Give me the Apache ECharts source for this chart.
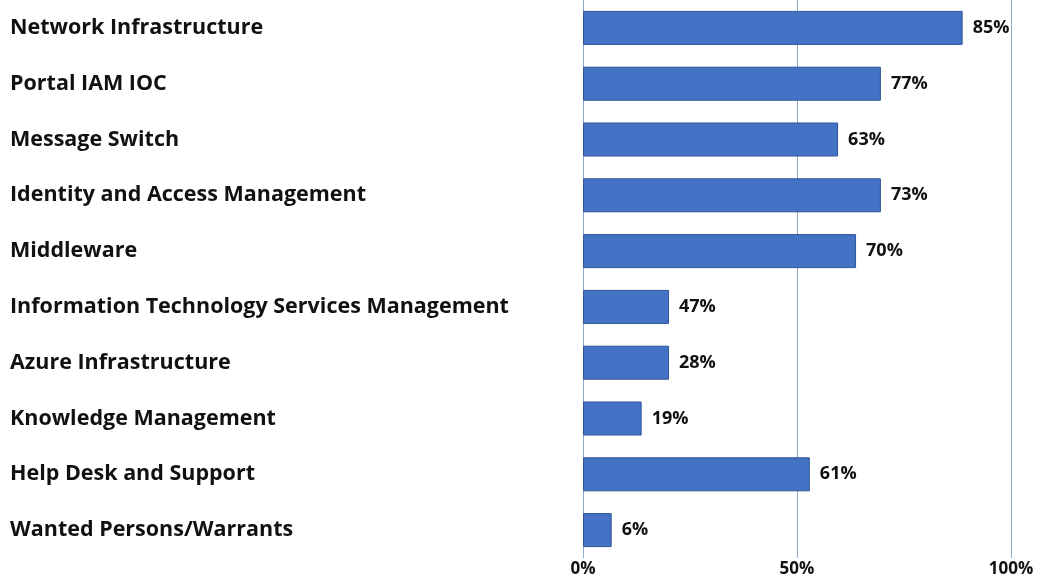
<!DOCTYPE html>
<html>
<head>
<meta charset="utf-8">
<script src="https://cdn.jsdelivr.net/npm/echarts@6/dist/echarts.min.js"></script>
<style>
  html, body { margin: 0; padding: 0; background: #fff; }
  #chart { width: 1037px; height: 579px; }
</style>
</head>
<body>
<div id="chart"></div>
<script>
// 类别（从上到下）
var categories = [
    'Network Infrastructure',
    'Portal IAM IOC',
    'Message Switch',
    'Identity and Access Management',
    'Middleware',
    'Information Technology Services Management',
    'Azure Infrastructure',
    'Knowledge Management',
    'Help Desk and Support',
    'Wanted Persons/Warrants'
];
// 条形长度
var barValues = [88.7, 69.6, 59.6, 69.6, 63.8, 20.1, 20.1, 13.7, 53.0, 6.7];
// 数据标签文字
var labelTexts = ['85%', '77%', '63%', '73%', '70%', '47%', '28%', '19%', '61%', '6%'];
// 横轴刻度
var xTicks = [0, 50, 100];

var font = '"Open Sans", "Noto Sans", sans-serif';

var chart = echarts.init(document.getElementById('chart'));
chart.setOption({
    animation: false,
    grid: { left: 583, right: 26, top: 0, bottom: 21, containLabel: false },
    xAxis: {
        type: 'value',
        min: 0,
        max: 100,
        interval: 50,
        axisLine: { show: false },
        axisTick: { show: false },
        splitLine: { lineStyle: { color: '#8fa8c8', width: 1 } },
        axisLabel: {
            margin: 3,
            color: '#111',
            fontFamily: font,
            fontWeight: 'bold',
            fontSize: 17,
            formatter: function (v) { return xTicks.indexOf(v) >= 0 ? v + '%' : ''; }
        }
    },
    yAxis: {
        type: 'category',
        inverse: true,
        data: categories,
        axisLine: { show: false },
        axisTick: { show: false },
        axisLabel: {
            align: 'left',
            margin: 573,
            color: '#111',
            fontFamily: font,
            fontWeight: 'bold',
            fontSize: 21.5,
            verticalAlign: 'middle'
        }
    },
    series: [{
        type: 'bar',
        data: barValues,
        barWidth: 34,
        itemStyle: { color: '#4472c4', borderColor: '#2f5597', borderWidth: 1 },
        label: {
            show: true,
            position: 'right',
            distance: 10,
            color: '#111',
            fontFamily: font,
            fontWeight: 'bold',
            fontSize: 18,
            formatter: function (p) { return labelTexts[p.dataIndex]; }
        }
    }]
});
</script>
</body>
</html>
